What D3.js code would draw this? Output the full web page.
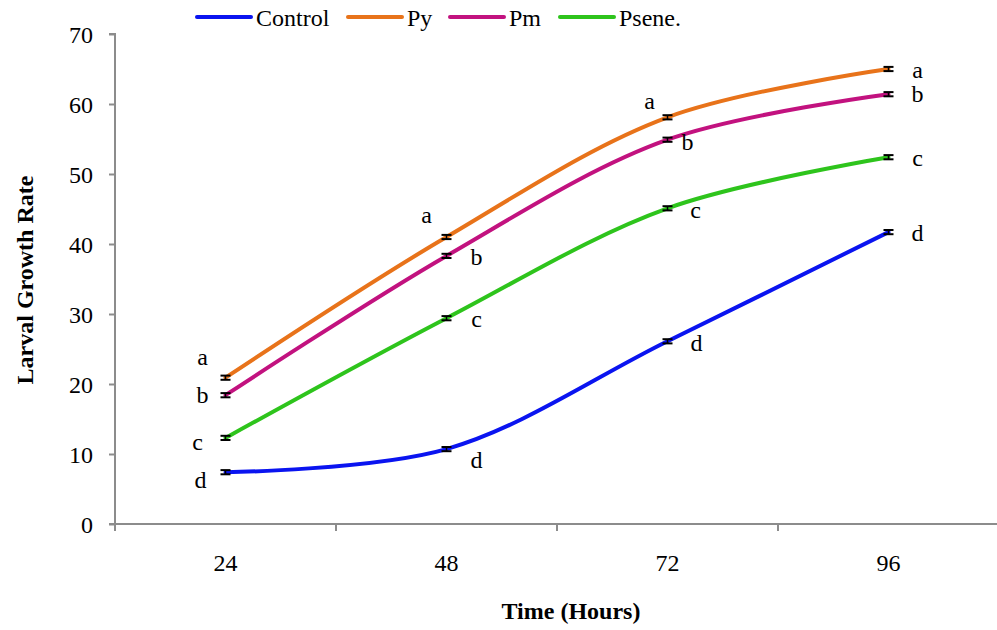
<!DOCTYPE html>
<html>
<head>
<meta charset="utf-8">
<script src="https://cdn.jsdelivr.net/npm/d3@7"></script>
<style>
  html, body { margin: 0; padding: 0; background: #fff; }
  svg { display: block; }
  svg text { font-family: "Times New Roman", "Liberation Serif", Times, serif; }
</style>
</head>
<body>
<svg id="chart" width="997" height="630"></svg>
<script>
// Larval growth rate over time for each treatment
const hours = ["24", "48", "72", "96"];
const seriesNames = ["Control", "Py", "Pm", "Psene."];
const control = [7.4, 10.7, 26.1, 41.7];
const py = [20.9, 41.0, 58.1, 65.0];
const pm = [18.4, 38.3, 54.9, 61.4];
const psene = [12.3, 29.4, 45.1, 52.4];
const errControl = [0.3, 0.3, 0.3, 0.3];
const errPy = [0.3, 0.3, 0.3, 0.3];
const errPm = [0.3, 0.3, 0.3, 0.3];
const errPsene = [0.3, 0.3, 0.3, 0.3];
const lettersControl = ["d", "d", "d", "d"];
const lettersPy = ["a", "a", "a", "a"];
const lettersPm = ["b", "b", "b", "b"];
const lettersPsene = ["c", "c", "c", "c"];
const yTicks = [0, 10, 20, 30, 40, 50, 60, 70];

const colors = ["#0a14f0", "#e8731a", "#c2127f", "#2ec41c"];
const series = [
  { name: seriesNames[0], values: control, err: errControl, letters: lettersControl, color: colors[0] },
  { name: seriesNames[1], values: py, err: errPy, letters: lettersPy, color: colors[1] },
  { name: seriesNames[2], values: pm, err: errPm, letters: lettersPm, color: colors[2] },
  { name: seriesNames[3], values: psene, err: errPsene, letters: lettersPsene, color: colors[3] }
];

// letter placement relative to each point (dx, dy) in px
const letterOffsets = {
  "Control": [[-25, 16], [30, 19], [29, 10], [29, 9]],
  "Py": [[-23, -13], [-20, -14], [-18, -8], [29, 9]],
  "Pm": [[-23, 8], [30, 9], [20, 10], [29, 8]],
  "Psene.": [[-28, 12], [30, 9], [28, 10], [29, 9]]
};

const FONT = '"Times New Roman", "Liberation Serif", Times, serif';
const FS = 24;

const svg = d3.select("#chart");
const margin = { left: 115, top: 34, right: 0, bottom: 106 };
const W = 997, H = 630;

const x = d3.scaleBand().domain(hours).range([margin.left, 999]);
const y = d3.scaleLinear().domain([0, 70]).range([H - margin.bottom, margin.top]);

const axisColor = "#8c8c8c";

// Y axis
const yAxis = svg.append("g")
  .attr("transform", `translate(${margin.left},0)`)
  .call(d3.axisLeft(y).tickValues(yTicks).tickSize(6).tickPadding(16));
yAxis.attr("font-family", null).attr("font-size", null);
yAxis.select(".domain").attr("stroke", axisColor).attr("stroke-width", 2)
  .attr("d", `M-6,${y(70)}H0V${y(0) + 6}`);
yAxis.selectAll(".tick line").attr("stroke", axisColor).attr("stroke-width", 2);
yAxis.selectAll(".tick text")
  .style("font-family", FONT).style("font-size", FS + "px")
  .attr("fill", "#000").attr("dy", "0.34em");

// X axis: ticks at category boundaries
const xg = svg.append("g").attr("transform", `translate(0,${y(0)})`);
xg.append("line").attr("x1", margin.left - 6).attr("x2", W).attr("y1", 0).attr("y2", 0)
  .attr("stroke", axisColor).attr("stroke-width", 2);
const bounds = hours.map(h => x(h));
xg.selectAll("line.tk").data(bounds).enter().append("line")
  .attr("class", "tk")
  .attr("x1", d => d).attr("x2", d => d).attr("y1", 0).attr("y2", 7)
  .attr("stroke", axisColor).attr("stroke-width", 2);
xg.selectAll("text.lbl").data(hours).enter().append("text")
  .attr("class", "lbl")
  .attr("x", d => x(d) + x.bandwidth() / 2)
  .attr("y", 47)
  .attr("text-anchor", "middle")
  .style("font-family", FONT).style("font-size", FS + "px")
  .text(d => d);

// Axis titles
svg.append("text")
  .attr("x", 571).attr("y", 619)
  .attr("text-anchor", "middle")
  .style("font-family", FONT).style("font-size", FS + "px").style("font-weight", "bold")
  .text("Time (Hours)");
svg.append("text")
  .attr("transform", `translate(33,280) rotate(-90)`)
  .attr("text-anchor", "middle")
  .style("font-family", FONT).style("font-size", FS + "px").style("font-weight", "bold")
  .text("Larval Growth Rate");

// Lines
const cx = h => x(h) + x.bandwidth() / 2;
const line = d3.line()
  .x((d, i) => cx(hours[i]))
  .y(d => y(d))
  .curve(d3.curveCatmullRom.alpha(0.5));

const g = svg.append("g");
series.forEach(s => {
  g.append("path")
    .datum(s.values)
    .attr("fill", "none")
    .attr("stroke", s.color)
    .attr("stroke-width", 4)
    .attr("stroke-linecap", "round")
    .attr("d", line);
});

// Error bars and significance letters
series.forEach(s => {
  s.values.forEach((v, i) => {
    const px = cx(hours[i]);
    const eg = g.append("g");
    eg.append("line").attr("x1", px).attr("x2", px)
      .attr("y1", y(v + s.err[i])).attr("y2", y(v - s.err[i]))
      .attr("stroke", "#000").attr("stroke-width", 1.5);
    [v + s.err[i], v - s.err[i]].forEach(e => {
      eg.append("line").attr("x1", px - 5).attr("x2", px + 5)
        .attr("y1", y(e)).attr("y2", y(e))
        .attr("stroke", "#000").attr("stroke-width", 2);
    });
    const off = letterOffsets[s.name][i];
    g.append("text")
      .attr("x", px + off[0]).attr("y", y(v) + off[1])
      .attr("text-anchor", "middle")
      .style("font-family", FONT).style("font-size", FS + "px")
      .text(s.letters[i]);
  });
});

// Legend
const legendX = [197, 348, 450, 560];
const lg = svg.append("g").attr("transform", "translate(0,17)");
series.forEach((s, i) => {
  lg.append("line").attr("x1", legendX[i]).attr("x2", legendX[i] + 54)
    .attr("y1", 0).attr("y2", 0)
    .attr("stroke", s.color).attr("stroke-width", 4).attr("stroke-linecap", "round");
  lg.append("text").attr("x", legendX[i] + 59).attr("y", 9)
    .style("font-family", FONT).style("font-size", FS + "px")
    .text(s.name);
});
</script>
</body>
</html>
